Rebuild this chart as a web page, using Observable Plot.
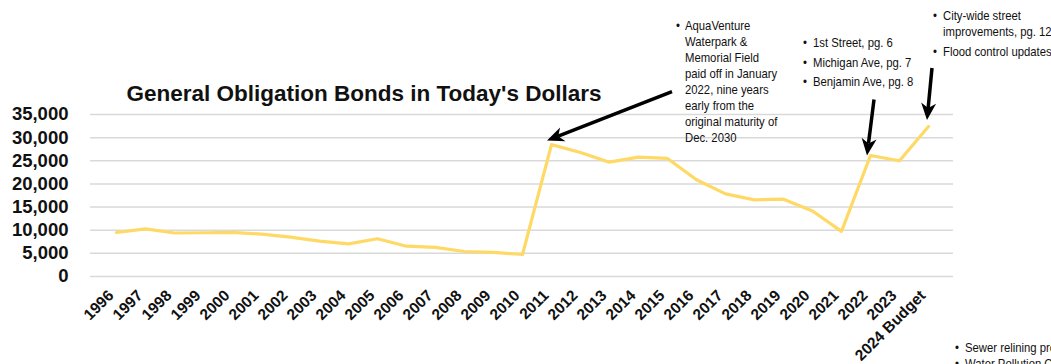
<!DOCTYPE html>
<html>
<head>
<meta charset="utf-8">
<script src="https://cdn.jsdelivr.net/npm/d3@7"></script>
<script src="https://cdn.jsdelivr.net/npm/@observablehq/plot@0.6"></script>
<style>
  html, body { margin: 0; padding: 0; background: #fff; }
  #chart { width: 1051px; height: 364px; overflow: hidden; }
  .note { font-family: "Liberation Sans", Arial, sans-serif; font-size: 13px; fill: #111; text-anchor: start; }
</style>
</head>
<body>
<div id="chart"></div>
<script>
// ---- data ----
const years = ["1996","1997","1998","1999","2000","2001","2002","2003","2004","2005",
  "2006","2007","2008","2009","2010","2011","2012","2013","2014","2015",
  "2016","2017","2018","2019","2020","2021","2022","2023","2024 Budget"];
const values = [9500, 10300, 9400, 9450, 9550, 9150, 8500, 7650, 7050, 8150,
  6550, 6300, 5400, 5200, 4750, 28500, 26800, 24700, 25800, 25500,
  20900, 17850, 16550, 16700, 14150, 9750, 26150, 25000, 32400];
const yTicks = [0, 5000, 10000, 15000, 20000, 25000, 30000, 35000];
const title = "General Obligation Bonds in Today's Dollars";
const noteAqua = ["AquaVenture", "Waterpark &", "Memorial Field", "paid off in January",
  "2022, nine years", "early from the", "original maturity of", "Dec. 2030"];
const noteStreets = ["1st Street, pg. 6", "Michigan Ave, pg. 7", "Benjamin Ave, pg. 8"];
const noteBudget = [["City-wide street", "improvements, pg. 12"], ["Flood control updates"]];
const noteSewer = ["Sewer relining projects", "Water Pollution Control"];

const data = years.map((y, i) => ({year: y, value: values[i]}));

const plot = Plot.plot({
  width: 1051,
  height: 364,
  marginLeft: 90,
  marginRight: 98,
  marginTop: 114,
  marginBottom: 88,
  style: {fontFamily: "'Liberation Sans', Arial, sans-serif", background: "#fff", overflow: "hidden"},
  x: {type: "point", domain: years, padding: 0.5, axis: null},
  y: {domain: [0, 35000], axis: null},
  marks: [
    Plot.ruleY(yTicks, {stroke: "#d9d9d9", strokeWidth: 1.5}),
    Plot.text(yTicks, {y: d => d, frameAnchor: "left", dx: -22, textAnchor: "end",
      text: d => d3.format(",")(d), fontSize: 18.5, fontWeight: "bold", fill: "#111"}),
    Plot.text(years, {x: d => d, frameAnchor: "bottom", dx: -2, dy: 20, rotate: -45,
      textAnchor: "end", fontSize: 15.5, fontWeight: "bold", fill: "#111"}),
    Plot.line(data, {x: "year", y: "value", stroke: "#FFD966", strokeWidth: 3.2})
  ]
});

document.getElementById("chart").appendChild(plot);

const svg = d3.select(plot);
const sx = plot.scale("x"), sy = plot.scale("y");
const px = (i) => sx.apply(years[i]);
const py = (i) => sy.apply(values[i]);

// title
svg.append("text")
  .attr("x", 364).attr("y", 101)
  .attr("text-anchor", "middle")
  .attr("font-size", 22.5).attr("font-weight", "bold")
  .attr("fill", "#111")
  .text(title);

// arrows: tip relative to a data point, tail offset in pixels
function arrow(i, tipDx, tipDy, tailDx, tailDy) {
  const x2 = px(i) + tipDx, y2 = py(i) + tipDy;
  const x1 = x2 + tailDx, y1 = y2 + tailDy;
  const ang = Math.atan2(y2 - y1, x2 - x1);
  const L = 17, W = 7.5, N = 5;
  const c = Math.cos(ang), s = Math.sin(ang);
  const bx = x2 - L * c, by = y2 - L * s;
  const nx = x2 - (L - N) * c, ny = y2 - (L - N) * s;
  svg.append("line")
    .attr("x1", x1).attr("y1", y1).attr("x2", nx).attr("y2", ny)
    .attr("stroke", "#000").attr("stroke-width", 3.5);
  svg.append("path")
    .attr("d", `M${x2},${y2} L${bx - W * s},${by + W * c} L${nx},${ny} L${bx + W * s},${by - W * c} Z`)
    .attr("fill", "#000");
}
arrow(15, -4, -3.5, 125, -49);
arrow(26, -3, 0.5, 7, -56);
arrow(28, -1, -6, 5, -52);

// notes (condensed look: horizontally scaled sans)
const SX = 0.87;
function noteText(x, y, str, size) {
  svg.append("text").attr("class", "note")
    .attr("transform", `translate(${x},${y}) scale(${SX},1)`)
    .attr("font-size", size || 13)
    .text(str);
}
function bulletBlock(groups, bx, tx, baselines) {
  let k = 0;
  groups.forEach(lines => {
    lines.forEach((line, j) => {
      if (j === 0) noteText(bx, baselines[k], "•", 11);
      noteText(tx, baselines[k], line);
      k++;
    });
  });
}
bulletBlock([noteAqua], 676, 685, noteAqua.map((_, i) => 29.5 + i * 16));
bulletBlock(noteStreets.map(d => [d]), 803, 813, [47, 66.5, 86]);
bulletBlock(noteBudget, 933, 943, [19.5, 36, 56]);
bulletBlock(noteSewer.map(d => [d]), 955, 965, [351.5, 368]);
</script>
</body>
</html>
